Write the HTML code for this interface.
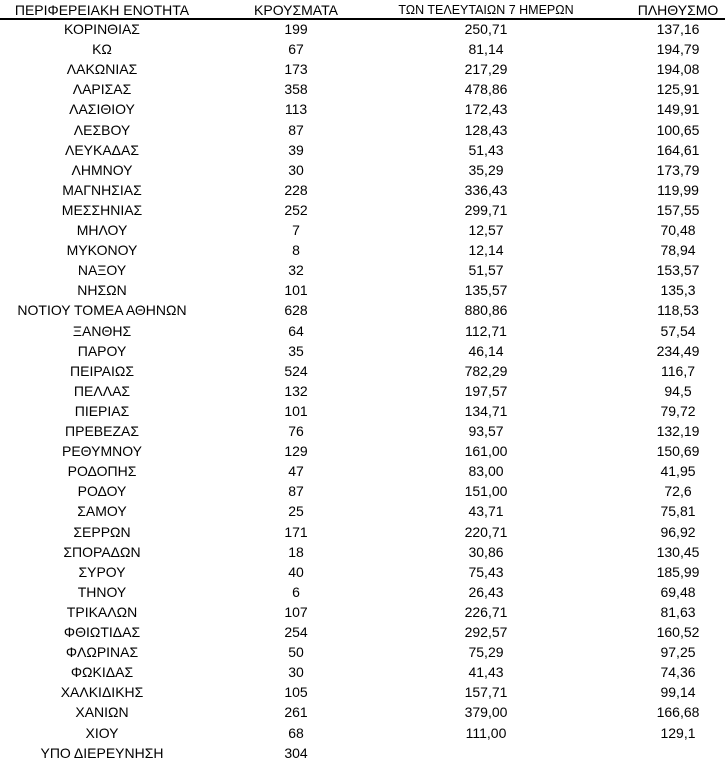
<!DOCTYPE html>
<html><head><meta charset="utf-8"><style>
body{margin:0;background:#fff;width:725px;height:766px;overflow:hidden;position:relative;font-family:"Liberation Sans",sans-serif;color:#000}
.r{position:absolute;left:0;width:725px;height:20px;line-height:20px;font-size:14px}
.r span{position:absolute;top:0;transform:translateX(-50%);white-space:nowrap}
.c1{left:102px}.c2{left:296px}.c3{left:486px}.c4{left:678px}
.hl{position:absolute;left:0;top:18px;width:725px;height:1.5px;background:#000}
</style></head><body>
<div class="r" style="top:0px"><span class="c1">ΠΕΡΙΦΕΡΕΙΑΚΗ ΕΝΟΤΗΤΑ</span><span class="c2">ΚΡΟΥΣΜΑΤΑ</span><span class="c3" style="font-size:12.5px">ΤΩΝ ΤΕΛΕΥΤΑΙΩΝ 7 ΗΜΕΡΩΝ</span><span class="c4">ΠΛΗΘΥΣΜΟ</span></div>
<div class="hl"></div>
<div id="t"></div>
<script>
var d=[["ΚΟΡΙΝΘΙΑΣ","199","250,71","137,16"],["ΚΩ","67","81,14","194,79"],["ΛΑΚΩΝΙΑΣ","173","217,29","194,08"],["ΛΑΡΙΣΑΣ","358","478,86","125,91"],["ΛΑΣΙΘΙΟΥ","113","172,43","149,91"],["ΛΕΣΒΟΥ","87","128,43","100,65"],["ΛΕΥΚΑΔΑΣ","39","51,43","164,61"],["ΛΗΜΝΟΥ","30","35,29","173,79"],["ΜΑΓΝΗΣΙΑΣ","228","336,43","119,99"],["ΜΕΣΣΗΝΙΑΣ","252","299,71","157,55"],["ΜΗΛΟΥ","7","12,57","70,48"],["ΜΥΚΟΝΟΥ","8","12,14","78,94"],["ΝΑΞΟΥ","32","51,57","153,57"],["ΝΗΣΩΝ","101","135,57","135,3"],["ΝΟΤΙΟΥ ΤΟΜΕΑ ΑΘΗΝΩΝ","628","880,86","118,53"],["ΞΑΝΘΗΣ","64","112,71","57,54"],["ΠΑΡΟΥ","35","46,14","234,49"],["ΠΕΙΡΑΙΩΣ","524","782,29","116,7"],["ΠΕΛΛΑΣ","132","197,57","94,5"],["ΠΙΕΡΙΑΣ","101","134,71","79,72"],["ΠΡΕΒΕΖΑΣ","76","93,57","132,19"],["ΡΕΘΥΜΝΟΥ","129","161,00","150,69"],["ΡΟΔΟΠΗΣ","47","83,00","41,95"],["ΡΟΔΟΥ","87","151,00","72,6"],["ΣΑΜΟΥ","25","43,71","75,81"],["ΣΕΡΡΩΝ","171","220,71","96,92"],["ΣΠΟΡΑΔΩΝ","18","30,86","130,45"],["ΣΥΡΟΥ","40","75,43","185,99"],["ΤΗΝΟΥ","6","26,43","69,48"],["ΤΡΙΚΑΛΩΝ","107","226,71","81,63"],["ΦΘΙΩΤΙΔΑΣ","254","292,57","160,52"],["ΦΛΩΡΙΝΑΣ","50","75,29","97,25"],["ΦΩΚΙΔΑΣ","30","41,43","74,36"],["ΧΑΛΚΙΔΙΚΗΣ","105","157,71","99,14"],["ΧΑΝΙΩΝ","261","379,00","166,68"],["ΧΙΟΥ","68","111,00","129,1"],["ΥΠΟ ΔΙΕΡΕΥΝΗΣΗ","304","",""]];
var h="";d.forEach(function(r,i){h+='<div class="r" style="top:'+(19+20.1*i).toFixed(1)+'px"><span class="c1">'+r[0]+'</span><span class="c2">'+r[1]+'</span><span class="c3">'+r[2]+'</span><span class="c4">'+r[3]+'</span></div>';});
document.getElementById("t").innerHTML=h;
</script>
</body></html>
